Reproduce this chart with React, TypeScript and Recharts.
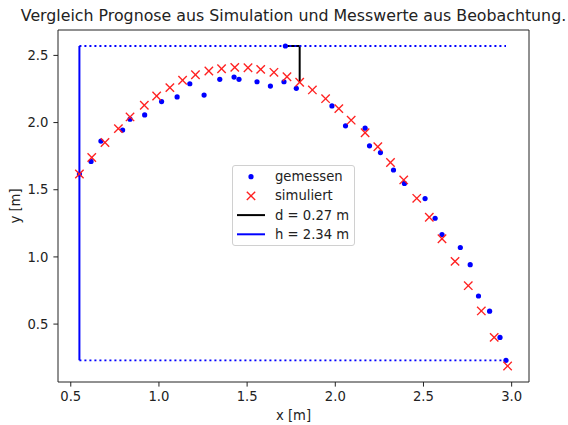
import { ScatterChart, Scatter, XAxis, YAxis, ReferenceLine, Legend } from "recharts";

const FONT = "'DejaVu Sans', sans-serif";
const INK = "#222";
const BLUE = "#0000ff";
const RED = "#ff2020";
const FS = 13.2;

// gemessen (measured)
const measuredX = [
  0.549, 0.615, 0.671, 0.794, 0.836, 0.919, 1.015, 1.103, 1.175, 1.256, 1.345, 1.426,
  1.454, 1.556, 1.632, 1.709, 1.717, 1.779, 1.981, 2.058, 2.169, 2.194, 2.256, 2.33,
  2.392, 2.509, 2.566, 2.605, 2.709, 2.765, 2.812, 2.875, 2.934, 2.968,
];
const measuredY = [
  1.617, 1.711, 1.862, 1.944, 2.025, 2.057, 2.156, 2.191, 2.289, 2.205, 2.322, 2.339,
  2.322, 2.304, 2.272, 2.304, 2.57, 2.255, 2.124, 1.976, 1.958, 1.827, 1.777, 1.647,
  1.547, 1.434, 1.288, 1.167, 1.07, 0.942, 0.709, 0.596, 0.401, 0.23,
];

// simuliert (simulated)
const simulatedX = [
  0.549, 0.619, 0.694, 0.77, 0.836, 0.917, 0.987, 1.062, 1.134, 1.207, 1.283, 1.355,
  1.43, 1.505, 1.577, 1.652, 1.726, 1.798, 1.87, 1.945, 2.02, 2.09, 2.169, 2.241,
  2.313, 2.388, 2.462, 2.533, 2.605, 2.679, 2.754, 2.828, 2.901, 2.977,
];
const simulatedY = [
  1.617, 1.74, 1.852, 1.955, 2.042, 2.129, 2.198, 2.26, 2.315, 2.356, 2.384, 2.401,
  2.411, 2.408, 2.396, 2.374, 2.341, 2.3, 2.243, 2.178, 2.104, 2.018, 1.924, 1.82,
  1.703, 1.573, 1.436, 1.295, 1.135, 0.967, 0.786, 0.598, 0.401, 0.188,
];

const xTicks = [0.5, 1.0, 1.5, 2.0, 2.5, 3.0];
const yTicks = [0.5, 1.0, 1.5, 2.0, 2.5];
const seriesLabels = ["gemessen", "simuliert", "d = 0.27 m", "h = 2.34 m"];
const SIM_AT_D = 17; // simulated point the d marker drops to

const measured = measuredX.map((x, i) => ({ x, y: measuredY[i] }));
const simulated = simulatedX.map((x, i) => ({ x, y: simulatedY[i] }));

// matplotlib-style 5% autoscale margin
function paddedDomain(values: number[]): [number, number] {
  const lo = Math.min(...values);
  const hi = Math.max(...values);
  const pad = (hi - lo) * 0.05;
  return [lo - pad, hi + pad];
}
const xDomain = paddedDomain([...measuredX, ...simulatedX]);
const yDomain = paddedDomain([...measuredY, ...simulatedY]);

const start = measured[0];
const end = measured[measured.length - 1];
const peak = measured[measuredY.indexOf(Math.max(...measuredY))];
const simD = simulated[SIM_AT_D];

const tickStyle = { fill: INK, fontSize: FS, fontFamily: FONT };

function BlueDot(props: any) {
  return <circle cx={props.cx} cy={props.cy} r={2.6} fill={BLUE} />;
}

function RedCross(props: any) {
  const { cx, cy } = props;
  const s = 4.2;
  return (
    <g stroke={RED} strokeWidth={1.35}>
      <line x1={cx - s} y1={cy - s} x2={cx + s} y2={cy + s} />
      <line x1={cx - s} y1={cy + s} x2={cx + s} y2={cy - s} />
    </g>
  );
}

function LegendBox() {
  const rows = [10.7, 29.9, 49.1, 68.3];
  return (
    <div
      style={{
        width: 121,
        height: 79,
        border: "1px solid #d0d0d0",
        borderRadius: 3,
        background: "rgba(255,255,255,0.8)",
      }}
    >
      <svg width={121} height={79} style={{ display: "block" }}>
        <BlueDot cx={18} cy={rows[0]} />
        <RedCross cx={18} cy={rows[1]} />
        <line x1={4} x2={32} y1={rows[2]} y2={rows[2]} stroke="#000" strokeWidth={2} />
        <line x1={4} x2={32} y1={rows[3]} y2={rows[3]} stroke={BLUE} strokeWidth={2} />
        {seriesLabels.map((label, i) => (
          <text
            key={label}
            x={42}
            y={rows[i]}
            dominantBaseline="central"
            fill={INK}
            fontSize={FS}
            fontFamily={FONT}
          >
            {label}
          </text>
        ))}
      </svg>
    </div>
  );
}

export default function App() {
  return (
    <div style={{ position: "absolute", left: 0, top: 0, width: 568, height: 425, background: "#fff" }}>
      <div
        style={{
          position: "absolute",
          left: 0,
          width: 587,
          top: 7,
          textAlign: "center",
          fontFamily: FONT,
          fontSize: 15.8,
          lineHeight: "18px",
          color: INK,
          whiteSpace: "nowrap",
        }}
      >
        Vergleich Prognose aus Simulation und Messwerte aus Beobachtung.
      </div>
      <ScatterChart width={568} height={425} margin={{ top: 30, right: 39, bottom: 0, left: 0 }}>
        <XAxis
          type="number"
          dataKey="x"
          domain={xDomain}
          allowDataOverflow
          ticks={xTicks}
          tickFormatter={(v: number) => v.toFixed(1)}
          height={43}
          tickSize={4.6}
          tickMargin={5.5}
          stroke={INK}
          tick={tickStyle}
          label={{ value: "x [m]", position: "insideBottom", offset: 5.5, ...tickStyle }}
        />
        <YAxis
          type="number"
          dataKey="y"
          domain={yDomain}
          allowDataOverflow
          ticks={yTicks}
          tickFormatter={(v: number) => v.toFixed(1)}
          width={58}
          tickSize={4.6}
          tickMargin={5}
          stroke={INK}
          tick={tickStyle}
          label={{
            value: "y [m]",
            angle: -90,
            position: "insideLeft",
            offset: 15,
            style: { textAnchor: "middle" },
            ...tickStyle,
          }}
        />
        {/* top and right spines */}
        <ReferenceLine y={yDomain[1]} stroke={INK} strokeWidth={1} ifOverflow="visible" />
        <ReferenceLine x={xDomain[1]} stroke={INK} strokeWidth={1} ifOverflow="visible" />
        <Scatter name="gemessen" data={measured} fill={BLUE} shape={BlueDot} isAnimationActive={false} />
        <Scatter name="simuliert" data={simulated} fill={RED} shape={RedCross} isAnimationActive={false} />
        {/* d: from measured peak across and down to the simulated curve */}
        <ReferenceLine
          segment={[{ x: peak.x, y: peak.y }, { x: simD.x, y: peak.y }]}
          stroke="#000"
          strokeWidth={2}
        />
        <ReferenceLine
          segment={[{ x: simD.x, y: peak.y }, { x: simD.x, y: simD.y }]}
          stroke="#000"
          strokeWidth={2}
        />
        {/* h: vertical extent of the measured flight */}
        <ReferenceLine
          segment={[{ x: start.x, y: end.y }, { x: start.x, y: peak.y }]}
          stroke={BLUE}
          strokeWidth={2}
        />
        <ReferenceLine
          segment={[{ x: start.x, y: peak.y }, { x: end.x, y: peak.y }]}
          stroke={BLUE}
          strokeWidth={1.8}
          strokeDasharray="2 3"
        />
        <ReferenceLine
          segment={[{ x: start.x, y: end.y }, { x: end.x, y: end.y }]}
          stroke={BLUE}
          strokeWidth={1.8}
          strokeDasharray="2 3"
        />
        <Legend
          layout="horizontal"
          verticalAlign="middle"
          align="center"
          content={() => <LegendBox />}
          wrapperStyle={{ left: 232, top: 165, width: 123, height: 81 }}
        />
      </ScatterChart>
    </div>
  );
}
